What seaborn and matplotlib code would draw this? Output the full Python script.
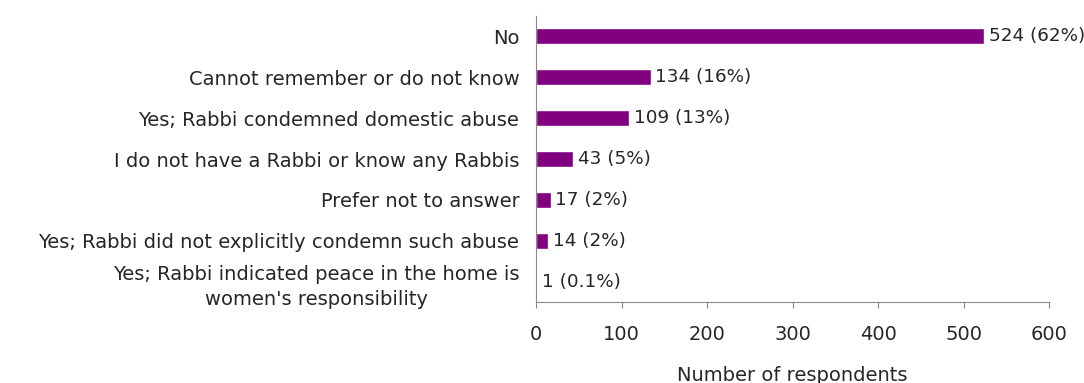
import matplotlib
matplotlib.use("Agg")
import matplotlib.pyplot as plt
import seaborn as sns
import pandas as pd

categories = [
    "No",
    "Cannot remember or do not know",
    "Yes; Rabbi condemned domestic abuse",
    "I do not have a Rabbi or know any Rabbis",
    "Prefer not to answer",
    "Yes; Rabbi did not explicitly condemn such abuse",
    "Yes; Rabbi indicated peace in the home is\nwomen's responsibility",
]
counts = [524, 134, 109, 43, 17, 14, 1]
percents = ["62%", "16%", "13%", "5%", "2%", "2%", "0.1%"]
xticks = [0, 100, 200, 300, 400, 500, 600]

sns.set_theme(style="white")
plt.rcParams['font.family'] = ['DejaVu Sans']
FS = 14
TXT = "#262626"

df = pd.DataFrame({"cat": categories, "n": counts})

fig = plt.figure(figsize=(10.84, 3.83), dpi=100)
ax = fig.add_axes([0.4945, 0.2115, 0.4733, 0.7467])
sns.barplot(data=df, y="cat", x="n", color="#800080", width=0.39, ax=ax,
            saturation=1, orient="h")

for i, (c, p) in enumerate(zip(counts, percents)):
    ax.annotate(f"{c} ({p})", xy=(c, i), xytext=(3.5, 0), textcoords="offset points",
                va="center", ha="left", fontsize=13.2, color=TXT)

ax.set_xlim(0, 600)
ax.set_xticks(xticks)
ax.set_xlabel("Number of respondents", fontsize=FS, color=TXT, labelpad=16)
ax.set_ylabel("")
ax.tick_params(axis="x", labelsize=FS, colors=TXT, length=4.5, width=0.8,
               direction="out", bottom=True, pad=12)
ax.tick_params(axis="x", color="#888888")
ax.tick_params(axis="y", labelsize=FS, colors=TXT, length=0, pad=12)
for lbl in ax.get_yticklabels():
    lbl.set_multialignment("center")
    lbl.set_linespacing(1.45)
for s in ["top", "right"]:
    ax.spines[s].set_visible(False)
for s in ["left", "bottom"]:
    ax.spines[s].set_color("#888888")
    ax.spines[s].set_linewidth(0.8)

fig.savefig("out.png", dpi=100)
